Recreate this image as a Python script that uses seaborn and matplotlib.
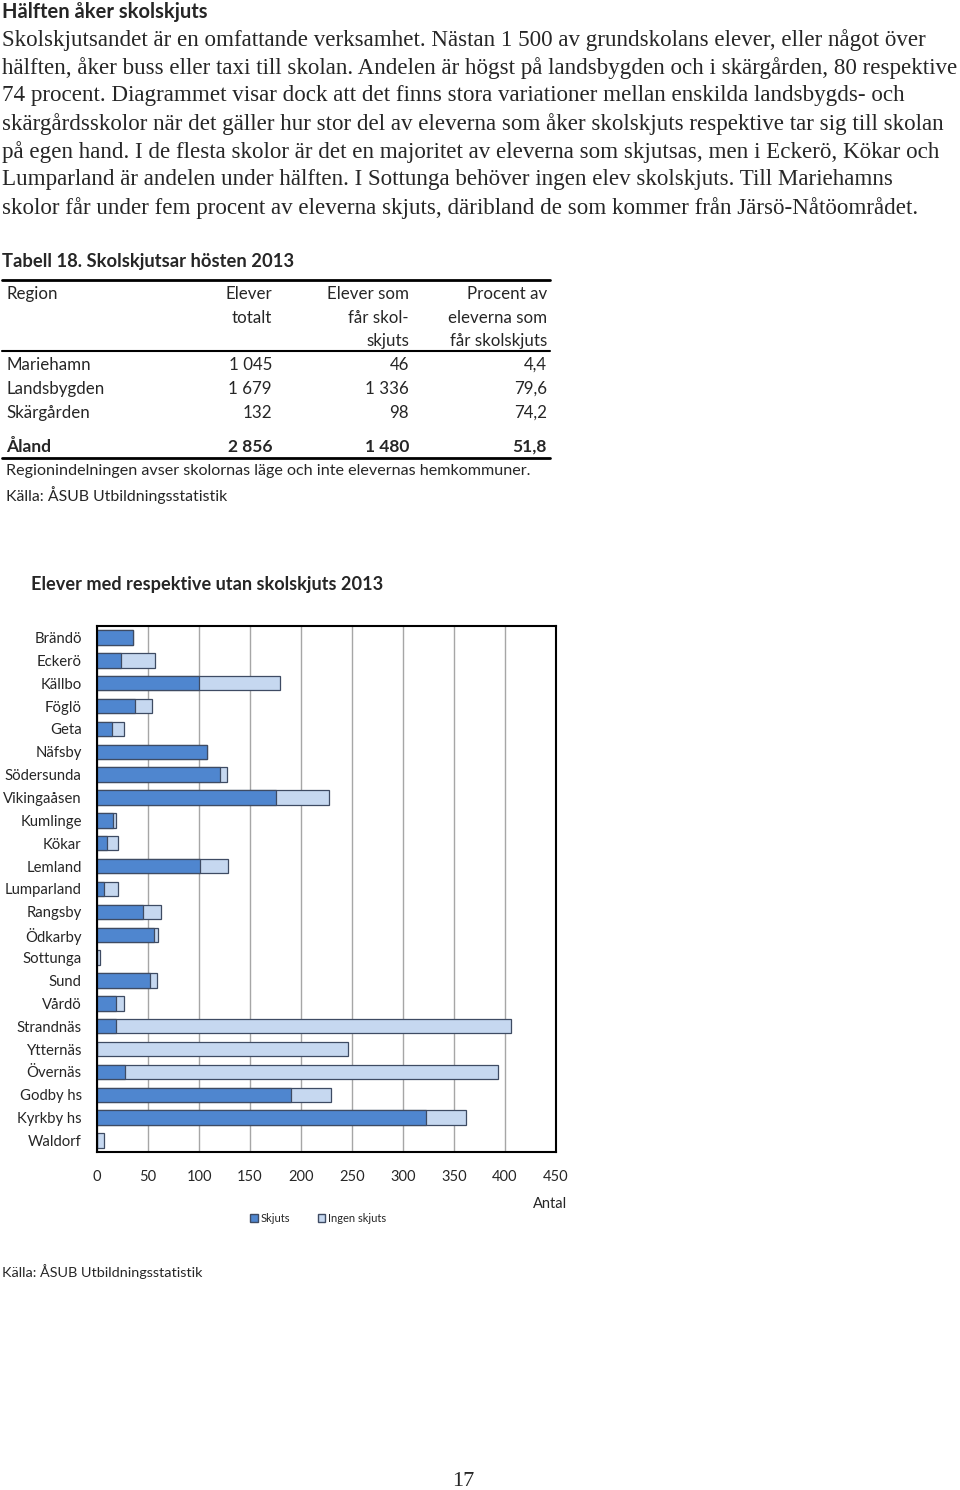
import seaborn as sns
import pandas as pd
import matplotlib.pyplot as plt
from matplotlib.lines import Line2D
from matplotlib.patches import Patch

sns.set_style('white')
plt.rcParams['font.family'] = ['Lato', 'DejaVu Sans']

# schools and pupils with / without school transport, autumn 2013
schools = ['Brändö', 'Eckerö', 'Källbo', 'Föglö', 'Geta', 'Näfsby', 'Södersunda',
           'Vikingaåsen', 'Kumlinge', 'Kökar', 'Lemland', 'Lumparland', 'Rangsby',
           'Ödkarby', 'Sottunga', 'Sund', 'Vårdö', 'Strandnäs', 'Ytternäs', 'Övernäs',
           'Godby hs', 'Kyrkby hs', 'Waldorf']
skjuts = [35, 24, 100, 37, 15, 108, 121, 175, 16, 10, 101, 7, 45,
          56, 0, 52, 19, 19, 0, 27, 190, 323, 0]
ingen_skjuts = [0, 33, 79, 17, 11, 0, 6, 52, 3, 11, 27, 14, 18,
                4, 3, 7, 7, 387, 246, 366, 39, 39, 7]
x_ticks = list(range(0, 451, 50))

# table 18
tab_regions = ['Mariehamn', 'Landsbygden', 'Skärgården']
tab_totalt = ['1 045', '1 679', '132']
tab_skjuts = ['46', '1 336', '98']
tab_procent = ['4,4', '79,6', '74,2']
tab_sum = ['Åland', '2 856', '1 480', '51,8']

paragraph = [
    'Skolskjutsandet är en omfattande verksamhet. Nästan 1 500 av grundskolans elever, eller något över',
    'hälften, åker buss eller taxi till skolan. Andelen är högst på landsbygden och i skärgården, 80 respektive',
    '74 procent. Diagrammet visar dock att det finns stora variationer mellan enskilda landsbygds- och',
    'skärgårdsskolor när det gäller hur stor del av eleverna som åker skolskjuts respektive tar sig till skolan',
    'på egen hand. I de flesta skolor är det en majoritet av eleverna som skjutsas, men i Eckerö, Kökar och',
    'Lumparland är andelen under hälften. I Sottunga behöver ingen elev skolskjuts. Till Mariehamns',
    'skolor får under fem procent av eleverna skjuts, däribland de som kommer från Järsö-Nåtöområdet.',
]

df = pd.DataFrame({'Skola': schools, 'Skjuts': skjuts, 'Ingen skjuts': ingen_skjuts})
df['Totalt'] = df['Skjuts'] + df['Ingen skjuts']

W, H = 960, 1490
fig = plt.figure(figsize=(W / 100, H / 100), dpi=100)


def fx(x):
    return x / W


def fy(y):
    return 1 - y / H


def txt(x, y, s, **kw):
    fig.text(fx(x), fy(y), s, va='center', **kw)


def hline(x0, x1, y, lw):
    fig.add_artist(Line2D([fx(x0), fx(x1)], [fy(y), fy(y)], color='black', lw=lw))


# page text
txt(2, 12, 'Hälften åker skolskjuts', fontsize=14.5, fontweight='bold')
for i, line in enumerate(paragraph):
    txt(2, 40 + 28 * i, line, fontsize=16.55, family='Liberation Serif')

# table
txt(2, 262, 'Tabell 18. Skolskjutsar hösten 2013', fontsize=13.2, fontweight='bold')
hline(2, 550, 280, 2)
hline(2, 550, 351, 1.5)
hline(2, 550, 458, 2)
tfs = 12.2
txt(6, 294, 'Region', fontsize=tfs)
for y, a, b, c in [(294, 'Elever', 'Elever som', 'Procent av'),
                   (318, 'totalt', 'får skol-', 'eleverna som'),
                   (341, '', 'skjuts', 'får skolskjuts')]:
    txt(272, y, a, fontsize=tfs, ha='right')
    txt(409, y, b, fontsize=tfs, ha='right')
    txt(547, y, c, fontsize=tfs, ha='right')
for i, reg in enumerate(tab_regions):
    y = 365 + 24 * i
    txt(6, y, reg, fontsize=tfs)
    txt(272, y, tab_totalt[i], fontsize=tfs, ha='right')
    txt(409, y, tab_skjuts[i], fontsize=tfs, ha='right')
    txt(547, y, tab_procent[i], fontsize=tfs, ha='right')
txt(6, 447, tab_sum[0], fontsize=12.5, fontweight='bold')
for xr, s in zip([272, 409, 547], tab_sum[1:]):
    txt(xr, 447, s, fontsize=12.5, fontweight='bold', ha='right')
txt(6, 471, 'Regionindelningen avser skolornas läge och inte elevernas hemkommuner.', fontsize=11.6)
txt(6, 495, 'Källa: ÅSUB Utbildningsstatistik', fontsize=11.4)

# chart
txt(31, 585, 'Elever med respektive utan skolskjuts 2013', fontsize=13.1, fontweight='bold')
ax = fig.add_axes([fx(97), fy(1152), fx(556) - fx(97), (1152 - 626) / H])
dark_blue = '#4f86cf'
light_blue = '#c6d8f0'
edge = '#3e4b63'
sns.barplot(data=df, x='Totalt', y='Skola', orient='h', color=light_blue, saturation=1,
            edgecolor=edge, linewidth=0.9, width=0.63, errorbar=None, ax=ax)
sns.barplot(data=df, x='Skjuts', y='Skola', orient='h', color=dark_blue, saturation=1,
            edgecolor=edge, linewidth=0.9, width=0.63, errorbar=None, ax=ax)
ax.set_xlim(0, 450)
ax.set_xticks(x_ticks)
ax.set_xticklabels([str(t) for t in x_ticks])
ax.grid(axis='x', color='#a6a6a6', lw=1)
ax.grid(axis='y', visible=False)
ax.set_axisbelow(True)
ax.set_xlabel('')
ax.set_ylabel('')
ax.tick_params(axis='x', length=0, labelsize=10.5, pad=13)
ax.tick_params(axis='y', length=0, labelsize=10.7, pad=11)
for sp in ax.spines.values():
    sp.set_visible(True)
    sp.set_color('black')
    sp.set_linewidth(1.5)

txt(533, 1204, 'Antal', fontsize=10.5)
handles = [Patch(facecolor=dark_blue, edgecolor=edge, label='Skjuts'),
           Patch(facecolor=light_blue, edgecolor=edge, label='Ingen skjuts')]
fig.legend(handles=handles, loc='center', bbox_to_anchor=(fx(318), fy(1218)), ncol=2,
           frameon=False, fontsize=8, handlelength=0.7, handleheight=0.7,
           handletextpad=0.2, columnspacing=2.5)

txt(2, 1272, 'Källa: ÅSUB Utbildningsstatistik', fontsize=10.4)
txt(452, 1481, '17', fontsize=16, family='Liberation Serif')

fig.savefig('out.png', dpi=100)
